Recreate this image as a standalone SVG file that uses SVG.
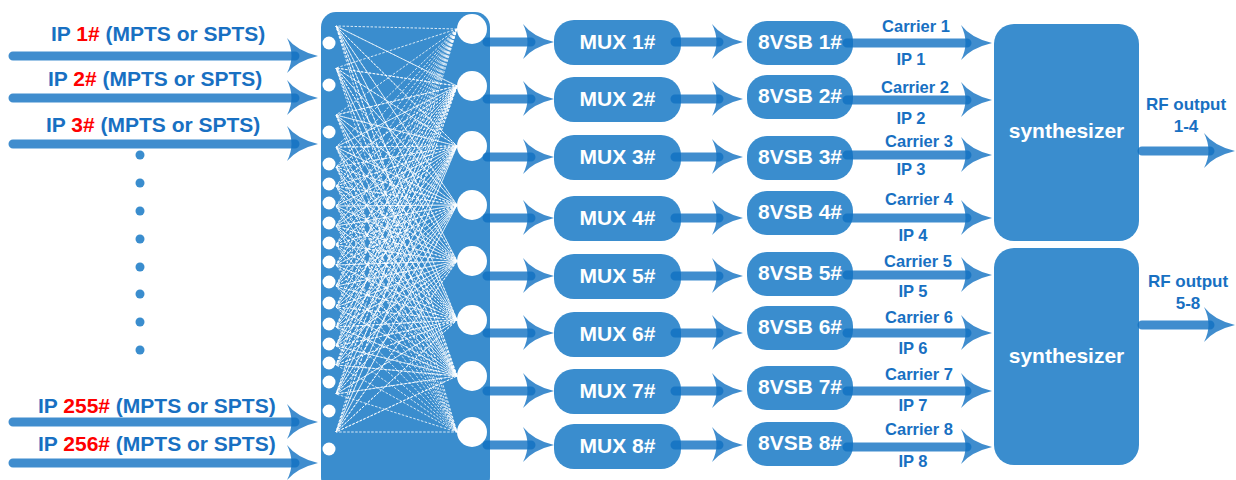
<svg xmlns="http://www.w3.org/2000/svg" xmlns:xlink="http://www.w3.org/1999/xlink" width="1236" height="480" viewBox="0 0 1236 480">
<style>
.box{fill:#3a8dce}
.ln{fill:none;stroke:#1071c2;stroke-opacity:0.8;stroke-width:9;stroke-linecap:round}
.ah{fill:#1071c2;fill-opacity:0.8}
.wt{font-family:"Liberation Sans",Arial,sans-serif;font-weight:bold;fill:#ffffff;text-anchor:middle}
.bt{font-family:"Liberation Sans",Arial,sans-serif;font-weight:bold;fill:#1870c2}
.in{font-size:21px}
.red{fill:#ff0000}
.cl{font-size:16.5px;text-anchor:middle}
.hole{fill:#ffffff}
.mesh{fill:none;stroke:#ffffff;stroke-width:1;stroke-dasharray:2.5 1.5;stroke-opacity:0.8;stroke-linejoin:round}
.dot{fill:#3a8dce}
</style>
<defs>
<path id="ah" class="ah" d="M-31,-18 Q-21,-5 0,0 Q-21,5 -31,17 Q-22,0 -31,-18Z"/>
</defs>

<g id="inputs">
<text class="bt in" x="51" y="41">IP <tspan class="red">1#</tspan> (MPTS or SPTS)</text>
<text class="bt in" x="48" y="86">IP <tspan class="red">2#</tspan> (MPTS or SPTS)</text>
<text class="bt in" x="46" y="132">IP <tspan class="red">3#</tspan> (MPTS or SPTS)</text>
<text class="bt in" x="38" y="413">IP <tspan class="red">255#</tspan> (MPTS or SPTS)</text>
<text class="bt in" x="38" y="451">IP <tspan class="red">256#</tspan> (MPTS or SPTS)</text>
<circle class="dot" cx="140" cy="155" r="4.5"/>
<circle class="dot" cx="140" cy="183" r="4.5"/>
<circle class="dot" cx="140" cy="211" r="4.5"/>
<circle class="dot" cx="140" cy="239" r="4.5"/>
<circle class="dot" cx="140" cy="267" r="4.5"/>
<circle class="dot" cx="140" cy="294" r="4.5"/>
<circle class="dot" cx="140" cy="322" r="4.5"/>
<circle class="dot" cx="140" cy="350" r="4.5"/>
</g>

<g id="matrix">
<rect class="box" x="321" y="12" width="169" height="480" rx="15"/>
<g class="mesh">
<path d="M457 29L336 26L457 86L336 26L457 146L336 26L457 205L336 26L457 261L336 26L457 320L336 26L457 376L336 26L457 432"/>
<path d="M457 29L336 68L457 86L336 68L457 146L336 68L457 205L336 68L457 261L336 68L457 320L336 68L457 376L336 68L457 432"/>
<path d="M457 29L336 115L457 86L336 115L457 146L336 115L457 205L336 115L457 261L336 115L457 320L336 115L457 376L336 115L457 432"/>
<path d="M457 29L336 147L457 86L336 147L457 146L336 147L457 205L336 147L457 261L336 147L457 320L336 147L457 376L336 147L457 432"/>
<path d="M457 29L336 167L457 86L336 167L457 146L336 167L457 205L336 167L457 261L336 167L457 320L336 167L457 376L336 167L457 432"/>
<path d="M457 29L336 186L457 86L336 186L457 146L336 186L457 205L336 186L457 261L336 186L457 320L336 186L457 376L336 186L457 432"/>
<path d="M457 29L336 206L457 86L336 206L457 146L336 206L457 205L336 206L457 261L336 206L457 320L336 206L457 376L336 206L457 432"/>
<path d="M457 29L336 226L457 86L336 226L457 146L336 226L457 205L336 226L457 261L336 226L457 320L336 226L457 376L336 226L457 432"/>
<path d="M457 29L336 245L457 86L336 245L457 146L336 245L457 205L336 245L457 261L336 245L457 320L336 245L457 376L336 245L457 432"/>
<path d="M457 29L336 265L457 86L336 265L457 146L336 265L457 205L336 265L457 261L336 265L457 320L336 265L457 376L336 265L457 432"/>
<path d="M457 29L336 286L457 86L336 286L457 146L336 286L457 205L336 286L457 261L336 286L457 320L336 286L457 376L336 286L457 432"/>
<path d="M457 29L336 307L457 86L336 307L457 146L336 307L457 205L336 307L457 261L336 307L457 320L336 307L457 376L336 307L457 432"/>
<path d="M457 29L336 327L457 86L336 327L457 146L336 327L457 205L336 327L457 261L336 327L457 320L336 327L457 376L336 327L457 432"/>
<path d="M457 29L336 346L457 86L336 346L457 146L336 346L457 205L336 346L457 261L336 346L457 320L336 346L457 376L336 346L457 432"/>
<path d="M457 29L336 365L457 86L336 365L457 146L336 365L457 205L336 365L457 261L336 365L457 320L336 365L457 376L336 365L457 432"/>
<path d="M457 29L336 394L457 86L336 394L457 146L336 394L457 205L336 394L457 261L336 394L457 320L336 394L457 376L336 394L457 432"/>
<path d="M457 29L336 432L457 86L336 432L457 146L336 432L457 205L336 432L457 261L336 432L457 320L336 432L457 376L336 432L457 432"/>
</g>
<g class="hole">
<circle cx="329" cy="43" r="6.5"/><circle cx="329" cy="85" r="6.5"/><circle cx="329" cy="132" r="6.5"/>
<circle cx="329" cy="164" r="6.5"/><circle cx="329" cy="184" r="6.5"/><circle cx="329" cy="203" r="6.5"/>
<circle cx="329" cy="223" r="6.5"/><circle cx="329" cy="243" r="6.5"/><circle cx="329" cy="262" r="6.5"/>
<circle cx="329" cy="282" r="6.5"/><circle cx="329" cy="303" r="6.5"/><circle cx="329" cy="324" r="6.5"/>
<circle cx="329" cy="344" r="6.5"/><circle cx="329" cy="363" r="6.5"/><circle cx="329" cy="382" r="6.5"/>
<circle cx="329" cy="411" r="6.5"/><circle cx="329" cy="449" r="6.5"/>
<circle cx="472" cy="29" r="15"/><circle cx="472" cy="86" r="15"/><circle cx="472" cy="146" r="15"/>
<circle cx="472" cy="205" r="15"/><circle cx="472" cy="261" r="15"/><circle cx="472" cy="320" r="15"/>
<circle cx="472" cy="376" r="15"/><circle cx="472" cy="432" r="15"/>
</g>
</g>

<g id="mux1"><rect class="box" x="554" y="20" width="127" height="45" rx="20"/><text class="wt" x="617.5" y="49" font-size="21">MUX 1#</text></g>
<g id="mux2"><rect class="box" x="554" y="77" width="127" height="45" rx="20"/><text class="wt" x="617.5" y="106" font-size="21">MUX 2#</text></g>
<g id="mux3"><rect class="box" x="554" y="135" width="127" height="45" rx="20"/><text class="wt" x="617.5" y="164" font-size="21">MUX 3#</text></g>
<g id="mux4"><rect class="box" x="554" y="196" width="127" height="45" rx="20"/><text class="wt" x="617.5" y="225" font-size="21">MUX 4#</text></g>
<g id="mux5"><rect class="box" x="554" y="254" width="127" height="45" rx="20"/><text class="wt" x="617.5" y="283" font-size="21">MUX 5#</text></g>
<g id="mux6"><rect class="box" x="554" y="312" width="127" height="45" rx="20"/><text class="wt" x="617.5" y="341" font-size="21">MUX 6#</text></g>
<g id="mux7"><rect class="box" x="554" y="369" width="127" height="45" rx="20"/><text class="wt" x="617.5" y="398" font-size="21">MUX 7#</text></g>
<g id="mux8"><rect class="box" x="554" y="424" width="127" height="45" rx="20"/><text class="wt" x="617.5" y="453" font-size="21">MUX 8#</text></g>

<g id="vsb1"><rect class="box" x="747" y="21" width="106" height="44" rx="20"/><text class="wt" x="800" y="49" font-size="21">8VSB 1#</text></g>
<g id="vsb2"><rect class="box" x="747" y="75" width="106" height="44" rx="20"/><text class="wt" x="800" y="103" font-size="21">8VSB 2#</text></g>
<g id="vsb3"><rect class="box" x="747" y="136" width="106" height="44" rx="20"/><text class="wt" x="800" y="164" font-size="21">8VSB 3#</text></g>
<g id="vsb4"><rect class="box" x="747" y="191" width="106" height="44" rx="20"/><text class="wt" x="800" y="219" font-size="21">8VSB 4#</text></g>
<g id="vsb5"><rect class="box" x="747" y="252" width="106" height="44" rx="20"/><text class="wt" x="800" y="280" font-size="21">8VSB 5#</text></g>
<g id="vsb6"><rect class="box" x="747" y="306" width="106" height="44" rx="20"/><text class="wt" x="800" y="334" font-size="21">8VSB 6#</text></g>
<g id="vsb7"><rect class="box" x="747" y="366" width="106" height="44" rx="20"/><text class="wt" x="800" y="394" font-size="21">8VSB 7#</text></g>
<g id="vsb8"><rect class="box" x="747" y="422" width="106" height="44" rx="20"/><text class="wt" x="800" y="450" font-size="21">8VSB 8#</text></g>

<g id="synth1"><rect class="box" x="994" y="24" width="145" height="217" rx="20"/><text class="wt" x="1066.5" y="138" font-size="21">synthesizer</text></g>
<g id="synth2"><rect class="box" x="994" y="248" width="145" height="217" rx="20"/><text class="wt" x="1066.5" y="363" font-size="21">synthesizer</text></g>

<g id="connectors">
<path class="ln" d="M13 56H295M13 98H295M13 144H295M13 422H295M13 463H295"/>
<use xlink:href="#ah" x="318" y="56"/><use xlink:href="#ah" x="318" y="98"/><use xlink:href="#ah" x="318" y="144"/><use xlink:href="#ah" x="318" y="422"/><use xlink:href="#ah" x="318" y="463"/>
<path class="ln" d="M487 42H531M487 99H531M487 157H531M487 218H531M487 276H531M487 333H531M487 391H531M487 445H531"/>
<use xlink:href="#ah" x="554" y="42"/><use xlink:href="#ah" x="554" y="99"/><use xlink:href="#ah" x="554" y="157"/><use xlink:href="#ah" x="554" y="218"/><use xlink:href="#ah" x="554" y="276"/><use xlink:href="#ah" x="554" y="333"/><use xlink:href="#ah" x="554" y="391"/><use xlink:href="#ah" x="554" y="445"/>
<path class="ln" d="M675 42H719M675 99H719M675 157H719M675 218H719M675 276H719M675 333H719M675 391H719M675 445H719"/>
<use xlink:href="#ah" x="743" y="42"/><use xlink:href="#ah" x="743" y="99"/><use xlink:href="#ah" x="743" y="157"/><use xlink:href="#ah" x="743" y="218"/><use xlink:href="#ah" x="743" y="276"/><use xlink:href="#ah" x="743" y="333"/><use xlink:href="#ah" x="743" y="391"/><use xlink:href="#ah" x="743" y="445"/>
<path class="ln" d="M847 43H967M847 100H967M847 155H967M847 218H967M847 275H967M847 333H967M847 391H967M847 447H967"/>
<use xlink:href="#ah" x="992" y="43"/><use xlink:href="#ah" x="992" y="100"/><use xlink:href="#ah" x="992" y="155"/><use xlink:href="#ah" x="992" y="218"/><use xlink:href="#ah" x="992" y="275"/><use xlink:href="#ah" x="992" y="333"/><use xlink:href="#ah" x="992" y="391"/><use xlink:href="#ah" x="992" y="447"/>
<path class="ln" d="M1142 151H1210M1142 325H1210"/>
<use xlink:href="#ah" x="1235" y="151"/><use xlink:href="#ah" x="1235" y="325"/>
<g class="bt cl">
<text x="916" y="32">Carrier 1</text><text x="911" y="65">IP 1</text>
<text x="915" y="93">Carrier 2</text><text x="911" y="124">IP 2</text>
<text x="919" y="147">Carrier 3</text><text x="911" y="175">IP 3</text>
<text x="919" y="205">Carrier 4</text><text x="913" y="241">IP 4</text>
<text x="918" y="267">Carrier 5</text><text x="913" y="297">IP 5</text>
<text x="919" y="323">Carrier 6</text><text x="913" y="354">IP 6</text>
<text x="919" y="380">Carrier 7</text><text x="913" y="411">IP 7</text>
<text x="919" y="435">Carrier 8</text><text x="913" y="467">IP 8</text>
</g>
<g class="bt" font-size="17" text-anchor="middle">
<text x="1186" y="110">RF output</text><text x="1186" y="132">1-4</text>
<text x="1188" y="287">RF output</text><text x="1188" y="309">5-8</text>
</g>
</g>
</svg>
